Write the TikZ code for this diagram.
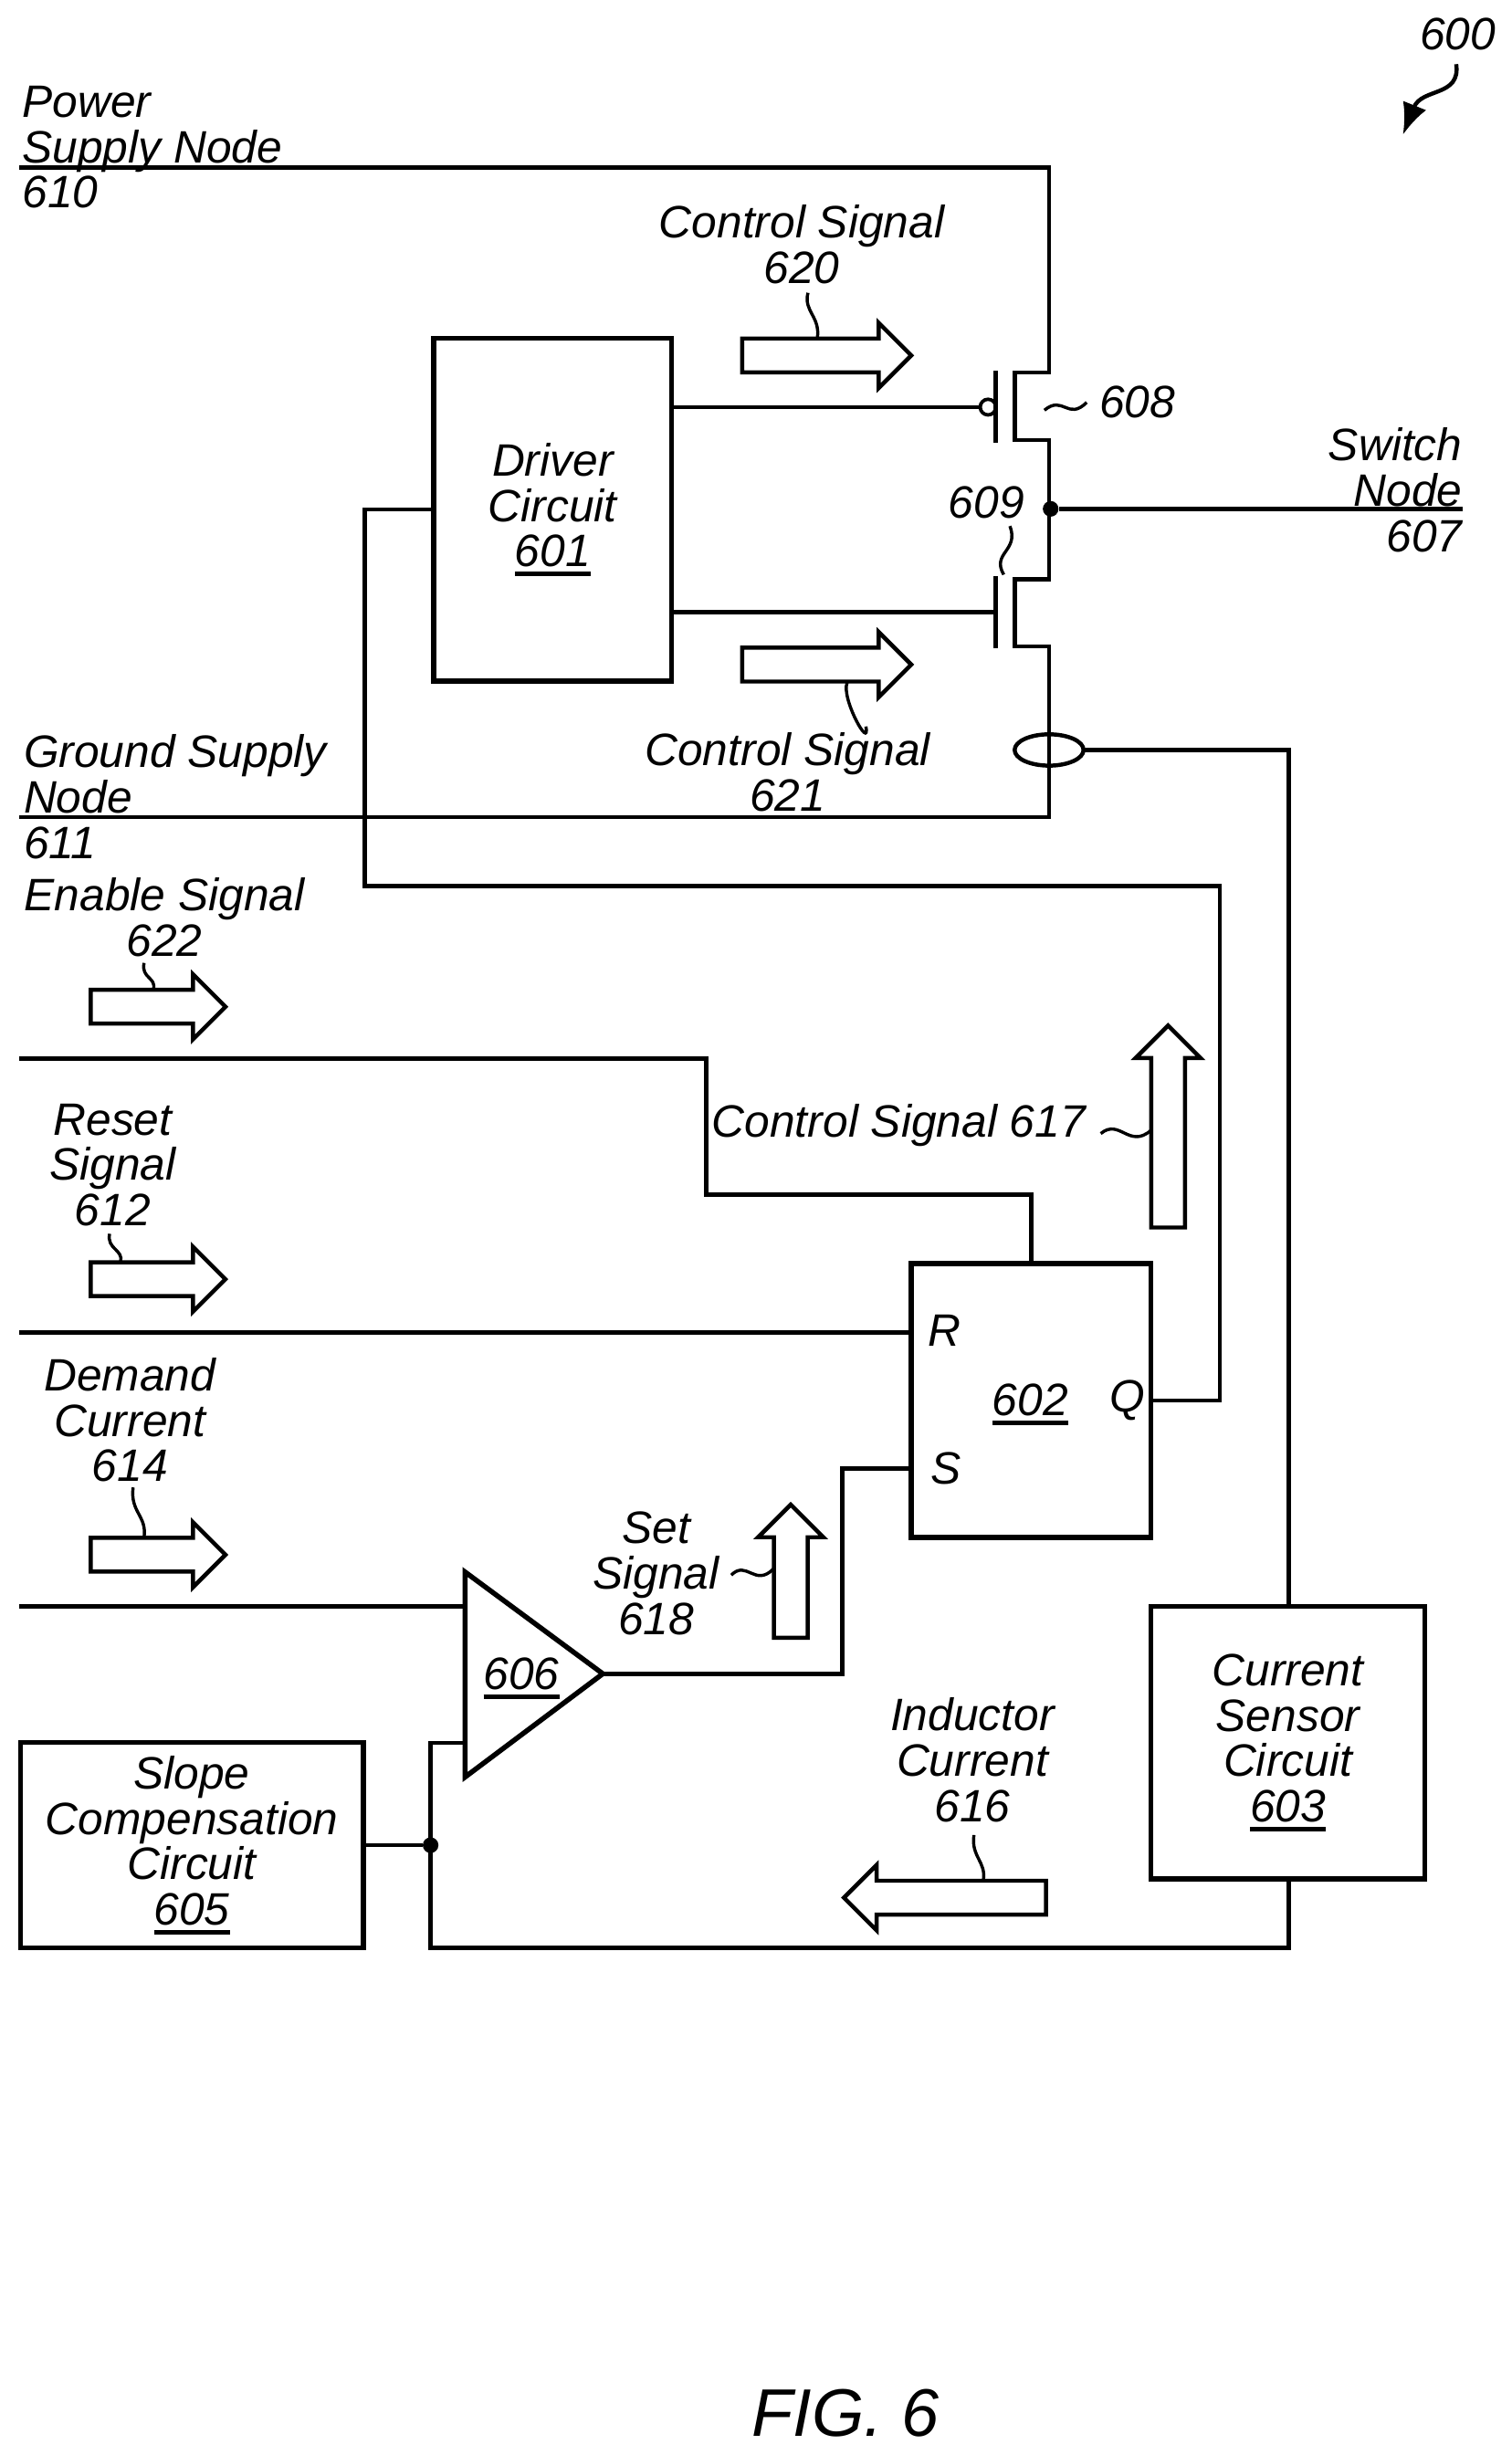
\documentclass[tikz,border=0pt]{standalone}
\usepackage{fontspec}
\setmainfont{Liberation Sans}
\usetikzlibrary{shapes.geometric,shapes.arrows,arrows.meta}
\newcommand{\ulnum}[1]{\setbox0=\hbox{#1}\rlap{\rule[-6pt]{\wd0}{3pt}}\box0}
\tikzset{
  lbl/.style={font=\itshape\fontsize{29}{29}\selectfont,align=center},
  wire/.style={line width=2.6pt,line join=miter},
  squig/.style={line width=2pt},
  blockbox/.style={draw,line width=3.2pt,outer sep=0pt,lbl},
  hollow/.style={draw,line width=2.6pt,single arrow,inner sep=9.5pt,single arrow head extend=10pt,minimum width=39pt,minimum height=108pt,outer sep=0pt,anchor=tip},
  junction/.style={circle,fill=black,minimum size=10pt},
}
\begin{document}
\begin{tikzpicture}[x=1pt,y=1pt]
\tikzstyle{every node}+=[inner sep=0pt]
\useasboundingbox (0,0) rectangle (965.6,-1568);
\node (driver) [blockbox,minimum width=152pt,minimum height=219pt] at (353,-325.5) {Driver\\Circuit\\\ulnum{601}};
\node (flop) [blockbox,minimum width=153pt,minimum height=175pt] at (658.5,-894.5) {};
\node (flopL) [lbl] at (658,-897) {\ulnum{602}};
\node (sensor) [blockbox,minimum width=175pt,minimum height=174pt] at (822.5,-1113) {Current\\Sensor\\Circuit\\\ulnum{603}};
\node (slope) [blockbox,minimum width=219pt,minimum height=131pt] at (122.5,-1178.5) {Slope\\Compensation\\Circuit\\\ulnum{605}};
\coordinate (ampT) at (297,-1004);
\coordinate (ampB) at (297,-1135);
\coordinate (ampO) at (385,-1069);
\draw [line width=3.2pt,line join=miter] (ampT) -- (ampO) -- (ampB) -- cycle;
\node (ampL) [lbl] at (333,-1072) {\ulnum{606}};
\coordinate (pwrL) at (12,-107);
\coordinate (pwrR) at (670,-107);
\coordinate (pTop) at (670,-238);
\coordinate (pTopI) at (648,-238);
\coordinate (pBotI) at (648,-281);
\coordinate (pBot) at (670,-281);
\coordinate (nTop) at (670,-370);
\coordinate (nTopI) at (648,-370);
\coordinate (nBotI) at (648,-413);
\coordinate (nBot) at (670,-413);
\coordinate (gndR) at (670,-522);
\coordinate (gndL) at (12,-522);
\coordinate (pGateT) at (636,-237);
\coordinate (pGateB) at (636,-283);
\coordinate (nGateT) at (636,-368);
\coordinate (nGateB) at (636,-414);
\coordinate (nGateM) at (636,-391);
\coordinate (swR) at (934,-325);
\node (bubble) [draw,circle,line width=2.2pt,minimum size=10pt] at (631,-260) {};
\node (swDot) [junction] at (671,-325) {};
\node (sense) [draw,ellipse,line width=2.6pt,minimum width=44pt,minimum height=20pt,outer sep=0pt] at (670,-479) {};
\draw [wire] (pwrL) -- (pwrR) -- (pTop) -- (pTopI) -- (pBotI) -- (pBot) -- (nTop) -- (nTopI) -- (nBotI) -- (nBot) -- (gndR) -- (gndL);
\draw [wire] (pGateT) -- (pGateB);
\draw [wire] (nGateT) -- (nGateB);
\draw [wire] (bubble.west) -- (bubble.west -| driver.east);
\draw [wire] (nGateM) -- (nGateM -| driver.east);
\draw [wire] (swDot) -- (swR);
\coordinate (senseC) at (823,-479);
\draw [wire] (sense.east) -- (senseC) -- (senseC |- sensor.north);
\coordinate (fbA) at (233,-325.5);
\coordinate (fbB) at (233,-566);
\coordinate (fbC) at (779,-566);
\coordinate (fbD) at (779,-894.5);
\draw [wire] (driver.west) -- (fbA) -- (fbB) -- (fbC) -- (fbD) -- (flop.east);
\coordinate (enL) at (12,-676);
\coordinate (enA) at (451,-676);
\coordinate (enB) at (451,-763);
\coordinate (enC) at (658.5,-763);
\draw [wire] (enL) -- (enA) -- (enB) -- (enC) -- (flop.north);
\coordinate (rstL) at (12,-851);
\draw [wire] (rstL) -- (rstL -| flop.west);
\coordinate (setA) at (582,-938);
\coordinate (setB) at (538,-938);
\coordinate (setC) at (538,-1069);
\draw [wire] (setA) -- (setB) -- (setC) -- (ampO);
\coordinate (demL) at (12,-1026);
\coordinate (demR) at (297,-1026);
\draw [wire] (demL) -- (demR);
\coordinate (negR) at (297,-1113);
\coordinate (negA) at (275,-1113);
\coordinate (negB) at (275,-1244);
\coordinate (negC) at (823,-1244);
\draw [wire] (negR) -- (negA) -- (negB) -- (negC) -- (negC |- sensor.south);
\node (slDot) [junction] at (275,-1178.5) {};
\draw [wire] (slope.east) -- (slDot);
\node (sigA) [hollow] at (582,-227) {};
\node (sigB) [hollow] at (582,-424.5) {};
\node (sigC) [hollow,minimum height=86pt] at (144,-643) {};
\node (sigD) [hollow,minimum height=86pt] at (144,-817) {};
\node (sigE) [hollow,minimum height=86pt] at (144,-993) {};
\node (sigF) [hollow,minimum height=129pt,shape border rotate=90] at (746,-655) {};
\node (sigG) [hollow,minimum height=85pt,shape border rotate=90] at (505,-961) {};
\node (sigH) [hollow,minimum height=129pt,shape border rotate=180] at (539,-1212) {};
\node (lblPwr) [lbl,align=left,anchor=west] at (14,-94) {Power\\Supply Node\\610};
\node (lblCtlA) [lbl] at (512,-156) {Control Signal\\620};
\node (lblP) [lbl,anchor=west] at (702,-257) {608};
\node (lblN) [lbl] at (630,-321) {609};
\node (lblSw) [lbl,align=right,anchor=east] at (934,-313) {Switch\\Node\\607};
\node (lblGnd) [lbl,align=left,anchor=west] at (15,-509) {Ground Supply\\Node\\611};
\node (lblCtlB) [lbl] at (503,-493) {Control Signal\\621};
\node (lblEn) [lbl] at (105,-586) {Enable Signal\\622};
\node (lblCtlC) [lbl] at (574,-719) {Control Signal 617};
\node (lblRst) [lbl] at (72,-744) {Reset\\Signal\\612};
\node (lblDem) [lbl] at (83,-907) {Demand\\Current\\614};
\node (lblSet) [lbl] at (419,-1005) {Set\\Signal\\618};
\node (lblInd) [lbl] at (621,-1124) {Inductor\\Current\\616};
\node (lblR) [lbl] at (603,-850) {R};
\node (lblS) [lbl] at (604,-938) {S};
\node (lblQ) [lbl] at (720,-894.5) {Q};
\node (lblFig) [font=\itshape\fontsize{43}{43}\selectfont] at (540,-1541) {FIG. 6};
\node (lblTop) [lbl] at (931,-22) {600};
\coordinate (sqA) at (516,-187);
\coordinate (sqB) at (522,-216);
\draw [squig] (sqA) .. controls +(-3,-12) and +(2,14) .. (sqB);
\coordinate (sqC) at (553,-464);
\coordinate (sqD) at (541,-436);
\draw [squig] (sqC) .. controls +(3,-16) and +(-4,-10) .. (sqD);
\coordinate (sqE) at (92,-615);
\coordinate (sqF) at (98,-632);
\draw [squig] (sqE) .. controls +(-2,-10) and +(2,8) .. (sqF);
\coordinate (sqG) at (70,-788);
\coordinate (sqH) at (77,-806);
\draw [squig] (sqG) .. controls +(-2,-10) and +(2,8) .. (sqH);
\coordinate (sqI) at (85,-950);
\coordinate (sqJ) at (92,-982);
\draw [squig] (sqI) .. controls +(-2,-16) and +(2,14) .. (sqJ);
\coordinate (sqK) at (622,-1172);
\coordinate (sqL) at (628,-1201);
\draw [squig] (sqK) .. controls +(-2,-14) and +(2,12) .. (sqL);
\coordinate (sqM) at (667,-262);
\coordinate (sqN) at (694,-257);
\draw [squig] (sqM) .. controls +(12,10) and +(-12,-12) .. (sqN);
\coordinate (sqO) at (645,-336);
\coordinate (sqP) at (641,-367);
\draw [squig] (sqO) .. controls +(6,-16) and +(-8,14) .. (sqP);
\coordinate (sqQ) at (703,-724);
\coordinate (sqR) at (735,-722);
\draw [squig] (sqQ) .. controls +(12,10) and +(-14,-12) .. (sqR);
\coordinate (sqS) at (467,-1006);
\coordinate (sqT) at (494,-1002);
\draw [squig] (sqS) .. controls +(10,10) and +(-12,-12) .. (sqT);
\coordinate (topA) at (930,-41);
\coordinate (topB) at (896,-86);
\draw [wire,-{Latex[length=20pt,width=16pt]}] (topA) .. controls (933,-62) and (908,-56) .. (topB);
\end{tikzpicture}
\end{document}
